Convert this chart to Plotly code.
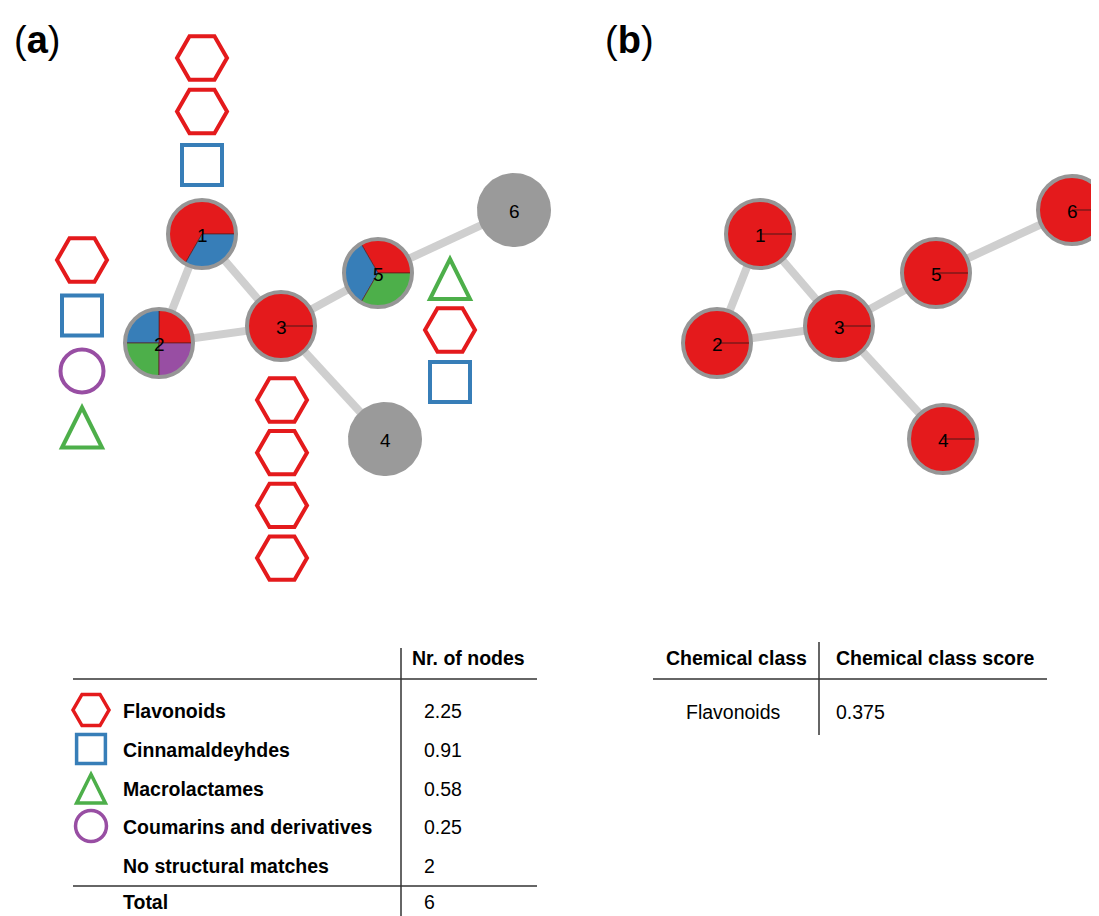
import math
import plotly.graph_objects as go

# ---------------- data ----------------
node_ids = [1, 2, 3, 4, 5, 6]
node_x = [202, 159, 281, 385, 378, 514]
node_y = [234, 343, 326, 439, 273, 210]
panel_b_shift = 558
edges = [(1, 2), (1, 3), (2, 3), (3, 5), (3, 4), (5, 6)]

class_names = ["Flavonoids", "Cinnamaldeyhdes", "Macrolactames", "Coumarins and derivatives"]
class_colors = ["#e41a1c", "#377eb8", "#4daf4a", "#984ea3"]
class_symbols = ["hexagon", "square", "triangle", "circle"]

# per-node class fractions (panel a pies)
frac_flavonoids = [0.667, 0.25, 1.0, 0.0, 0.333, 0.0]
frac_cinnamaldeyhdes = [0.333, 0.25, 0.0, 0.0, 0.333, 0.0]
frac_macrolactames = [0.0, 0.25, 0.0, 0.0, 0.333, 0.0]
frac_coumarins = [0.0, 0.25, 0.0, 0.0, 0.0, 0.0]

# panel b: chemical class score colouring (all nodes Flavonoids)
b_frac_flavonoids = [1.0, 1.0, 1.0, 1.0, 1.0, 1.0]

# substructure matches stacked next to nodes
matches_node1 = ["Flavonoids", "Flavonoids", "Cinnamaldeyhdes"]
matches_node2 = ["Flavonoids", "Cinnamaldeyhdes", "Coumarins and derivatives", "Macrolactames"]
matches_node3 = ["Flavonoids", "Flavonoids", "Flavonoids", "Flavonoids"]
matches_node5 = ["Macrolactames", "Flavonoids", "Cinnamaldeyhdes"]

table_a_header = "Nr. of nodes"
table_a_labels = ["Flavonoids", "Cinnamaldeyhdes", "Macrolactames", "Coumarins and derivatives",
                  "No structural matches"]
table_a_values = ["2.25", "0.91", "0.58", "0.25", "2"]
table_a_total = ("Total", "6")

table_b_headers = ["Chemical class", "Chemical class score"]
table_b_class = ["Flavonoids"]
table_b_score = ["0.375"]

# ---------------- layout constants ----------------
W, H = 1099, 916
OFF = 8  # page body margin
FONT = "Liberation Sans, Arial, Helvetica, sans-serif"
PIE_R = 34
GRAY_R = 37
stack_layout = {1: (202, 58, 53.5), 2: (82, 260, 55.5), 3: (282, 400, 52.7), 5: (450, 278, 52)}
stacks = {1: matches_node1, 2: matches_node2, 3: matches_node3, 5: matches_node5}

fig = go.Figure()
shapes = []
annotations = []


def pos(nid, shift=0):
    i = node_ids.index(nid)
    return node_x[i] + shift, node_y[i]


def add_edges(shift):
    for a, b in edges:
        xa, ya = pos(a, shift)
        xb, yb = pos(b, shift)
        fig.add_trace(go.Scatter(x=[xa, xb], y=[ya, yb], mode="lines",
                                 line=dict(color="#cfcfcf", width=8),
                                 hoverinfo="skip", showlegend=False))


def add_pie(cx, cy, fracs, colors):
    total = sum(fracs)
    if total == 0:
        pts = [(cx + GRAY_R * math.cos(2 * math.pi * k / 90), cy - GRAY_R * math.sin(2 * math.pi * k / 90))
               for k in range(91)]
        fig.add_trace(go.Scatter(x=[p[0] for p in pts], y=[p[1] for p in pts], mode="lines",
                                 fill="toself", fillcolor="#9a9a9a", line=dict(width=0),
                                 hoverinfo="skip", showlegend=False))
        return
    start = 0.0
    for f, c in zip(fracs, colors):
        if f <= 0:
            continue
        a0 = start * 2 * math.pi
        a1 = (start + f / total) * 2 * math.pi
        if abs(a1 - 2 * math.pi) < 0.02:
            a1 = 2 * math.pi
        n = max(8, int(90 * (a1 - a0) / (2 * math.pi)))
        xs, ys = [cx], [cy]
        for k in range(n + 1):
            t = a0 + (a1 - a0) * k / n
            xs.append(cx + PIE_R * math.cos(t))
            ys.append(cy - PIE_R * math.sin(t))
        xs.append(cx)
        ys.append(cy)
        fig.add_trace(go.Scatter(x=xs, y=ys, mode="lines", fill="toself", fillcolor=c,
                                 line=dict(color="rgba(90,25,25,0.65)", width=1),
                                 hoverinfo="skip", showlegend=False))
        start += f / total
    shapes.append(dict(type="circle", xref="x", yref="y", x0=cx - PIE_R, x1=cx + PIE_R,
                       y0=cy - PIE_R, y1=cy + PIE_R, line=dict(color="#969696", width=4),
                       fillcolor="rgba(0,0,0,0)"))


def add_label(cx, cy, nid):
    annotations.append(dict(x=cx, y=cy + 1, xref="x", yref="y", text=str(nid), showarrow=False,
                            font=dict(family=FONT, size=19, color="black"),
                            xanchor="center", yanchor="middle"))


def add_symbol(cls, x, y, scale=1.0, width=4):
    i = class_names.index(cls)
    sym = class_symbols[i]
    col = class_colors[i]
    if sym == "triangle":
        hw, top, bot = 20 * scale, 19 * scale, 21 * scale
        shapes.append(dict(type="path", xref="x", yref="y",
                           path=f"M {x},{y - top} L {x + hw},{y + bot} L {x - hw},{y + bot} Z",
                           line=dict(color=col, width=width), fillcolor="rgba(0,0,0,0)"))
        return
    sizes = {"hexagon": 50, "square": 40, "circle": 43}
    names = {"hexagon": "hexagon2-open", "square": "square-open", "circle": "circle-open"}
    fig.add_trace(go.Scatter(x=[x], y=[y], mode="markers",
                             marker=dict(symbol=names[sym], size=sizes[sym] * scale, color=col,
                                         line=dict(color=col, width=width)),
                             hoverinfo="skip", showlegend=False))


# ---------------- panel (a) ----------------
add_edges(0)
for k, nid in enumerate(node_ids):
    cx, cy = pos(nid)
    add_pie(cx, cy, [frac_flavonoids[k], frac_cinnamaldeyhdes[k], frac_macrolactames[k], frac_coumarins[k]],
            class_colors)
    add_label(cx, cy, nid)

for nid, lst in stacks.items():
    sx, sy, step = stack_layout[nid]
    for j, cls in enumerate(lst):
        add_symbol(cls, sx, sy + j * step)

# ---------------- panel (b) ----------------
add_edges(panel_b_shift)
for k, nid in enumerate(node_ids):
    cx, cy = pos(nid, panel_b_shift)
    add_pie(cx, cy, [b_frac_flavonoids[k]], [class_colors[0]])
    add_label(cx, cy, nid)

# ---------------- panel labels ----------------
annotations.append(dict(x=12, y=40, xref="x", yref="y", text="(<b>a</b>)", showarrow=False,
                        font=dict(family=FONT, size=38, color="black"), xanchor="left", yanchor="middle"))
annotations.append(dict(x=603, y=40, xref="x", yref="y", text="(<b>b</b>)", showarrow=False,
                        font=dict(family=FONT, size=38, color="black"), xanchor="left", yanchor="middle"))

# ---------------- table (a) ----------------
TXT = 19.5
LINE = dict(color="#333333", width=1.5)
shapes.append(dict(type="line", xref="x", yref="y", x0=73, x1=537, y0=679, y1=679, line=LINE))
shapes.append(dict(type="line", xref="x", yref="y", x0=73, x1=537, y0=886, y1=886, line=LINE))
shapes.append(dict(type="line", xref="x", yref="y", x0=401, x1=401, y0=648, y1=916, line=LINE))
annotations.append(dict(x=410, y=658, xref="x", yref="y", text="<b>" + table_a_header + "</b>",
                        showarrow=False, font=dict(family=FONT, size=TXT, color="black"),
                        xanchor="left", yanchor="middle"))
row_y = [711, 750, 789, 827, 866]
for j, (lab, val) in enumerate(zip(table_a_labels, table_a_values)):
    annotations.append(dict(x=121, y=row_y[j], xref="x", yref="y", text="<b>" + lab + "</b>",
                            showarrow=False, font=dict(family=FONT, size=TXT, color="black"),
                            xanchor="left", yanchor="middle"))
    annotations.append(dict(x=422, y=row_y[j], xref="x", yref="y", text=val,
                            showarrow=False, font=dict(family=FONT, size=TXT, color="black"),
                            xanchor="left", yanchor="middle"))
    if lab in class_names:
        add_symbol(lab, 91, row_y[j] - 1, scale=0.72, width=3.5)
annotations.append(dict(x=121, y=902, xref="x", yref="y", text="<b>" + table_a_total[0] + "</b>",
                        showarrow=False, font=dict(family=FONT, size=TXT, color="black"),
                        xanchor="left", yanchor="middle"))
annotations.append(dict(x=422, y=902, xref="x", yref="y", text=table_a_total[1],
                        showarrow=False, font=dict(family=FONT, size=TXT, color="black"),
                        xanchor="left", yanchor="middle"))

# ---------------- table (b) ----------------
shapes.append(dict(type="line", xref="x", yref="y", x0=653, x1=1047, y0=679, y1=679, line=LINE))
shapes.append(dict(type="line", xref="x", yref="y", x0=819, x1=819, y0=642, y1=735, line=LINE))
annotations.append(dict(x=736, y=658, xref="x", yref="y", text="<b>" + table_b_headers[0] + "</b>",
                        showarrow=False, font=dict(family=FONT, size=TXT, color="black"),
                        xanchor="center", yanchor="middle"))
annotations.append(dict(x=834, y=658, xref="x", yref="y", text="<b>" + table_b_headers[1] + "</b>",
                        showarrow=False, font=dict(family=FONT, size=TXT, color="black"),
                        xanchor="left", yanchor="middle"))
for j, (c, s) in enumerate(zip(table_b_class, table_b_score)):
    annotations.append(dict(x=733, y=712 + 39 * j, xref="x", yref="y", text=c,
                            showarrow=False, font=dict(family=FONT, size=TXT, color="black"),
                            xanchor="center", yanchor="middle"))
    annotations.append(dict(x=834, y=712 + 39 * j, xref="x", yref="y", text=s,
                            showarrow=False, font=dict(family=FONT, size=TXT, color="black"),
                            xanchor="left", yanchor="middle"))

# The page body has an 8 px margin: shrink the figure and offset the ranges so that
# data units coincide with window pixels.
fig.update_layout(
    width=W - OFF, height=H - OFF, autosize=False,
    margin=dict(l=0, r=0, t=0, b=0),
    paper_bgcolor="white", plot_bgcolor="white",
    xaxis=dict(range=[OFF, W], visible=False, fixedrange=True),
    yaxis=dict(range=[H, OFF], visible=False, fixedrange=True),
    shapes=shapes, annotations=annotations, showlegend=False,
)
fig.write_html("out.html")
